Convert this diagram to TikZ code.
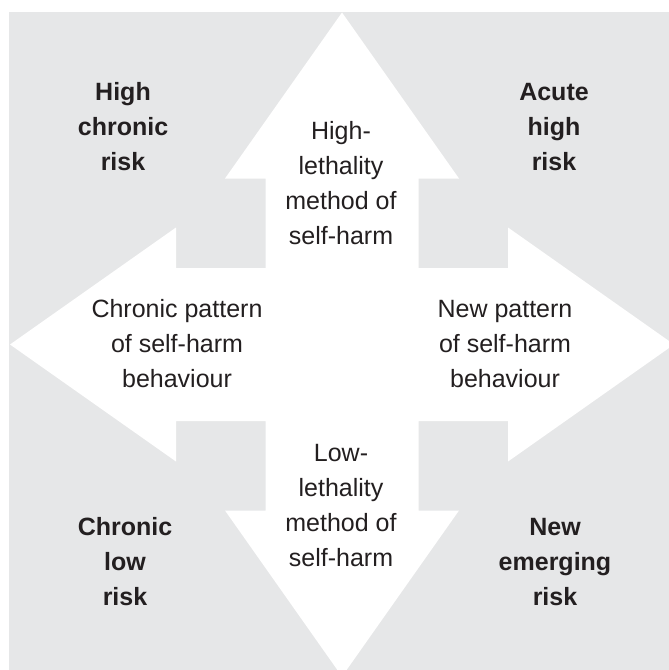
\documentclass[tikz,border=0pt]{standalone}
\usepackage{fontspec}
\setmainfont{Liberation Sans}
\definecolor{bgray}{HTML}{E6E7E8}
\definecolor{txt}{HTML}{231F20}
\begin{document}
\begin{tikzpicture}[x=1bp,y=-1bp,
  lbl/.style={align=center,inner sep=0pt,text=txt,font=\fontsize{25bp}{35bp}\selectfont},
  corner/.style={lbl,font=\fontsize{25bp}{35bp}\selectfont\bfseries}]
\useasboundingbox (0,0) rectangle (669,670);
\fill[bgray] (9,12) rectangle (669,670);
\begin{scope}
\clip (9,12) rectangle (669,670);
\def\cx{342}\def\cy{344.5}
\def\T{332}\def\B{166}\def\W{117}\def\S{76.5}
\fill[white]
 (\cx,\cy-\T) -- (\cx+\W,\cy-\B) -- (\cx+\S,\cy-\B) -- (\cx+\S,\cy-\S)
 -- (\cx+\B,\cy-\S) -- (\cx+\B,\cy-\W) -- (\cx+\T,\cy) -- (\cx+\B,\cy+\W)
 -- (\cx+\B,\cy+\S) -- (\cx+\S,\cy+\S) -- (\cx+\S,\cy+\B) -- (\cx+\W,\cy+\B)
 -- (\cx,\cy+\T) -- (\cx-\W,\cy+\B) -- (\cx-\S,\cy+\B) -- (\cx-\S,\cy+\S)
 -- (\cx-\B,\cy+\S) -- (\cx-\B,\cy+\W) -- (\cx-\T,\cy) -- (\cx-\B,\cy-\W)
 -- (\cx-\B,\cy-\S) -- (\cx-\S,\cy-\S) -- (\cx-\S,\cy-\B) -- (\cx-\W,\cy-\B) -- cycle;
\end{scope}
\node[corner] (hcr) at (123,127) {High\\chronic\\risk};
\node[corner] (ahr) at (554,127) {Acute\\high\\risk};
\node[corner] (clr) at (125,562) {Chronic\\low\\risk};
\node[corner] (ner) at (555,562) {New\\emerging\\risk};
\node[lbl] (hl) at (341,183) {High-\\lethality\\method of\\self-harm};
\node[lbl] (ll) at (341,506) {Low-\\lethality\\method of\\self-harm};
\node[lbl] (cp) at (177,344) {Chronic pattern\\of self-harm\\behaviour};
\node[lbl] (np) at (505,344) {New pattern\\of self-harm\\behaviour};
\end{tikzpicture}
\end{document}
